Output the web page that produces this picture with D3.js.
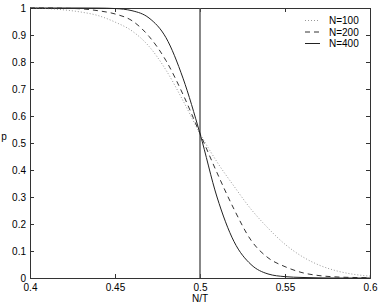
<!DOCTYPE html>
<html>
<head>
<meta charset="utf-8">
<script src="https://cdn.jsdelivr.net/npm/d3@7"></script>
<style>
body { margin: 0; background: #fff; }
text { font-family: "Liberation Sans", Arial, sans-serif; font-size: 10px; fill: #000; }
</style>
</head>
<body>
<script>
// values
var xs = [0.40, 0.41, 0.42, 0.43, 0.44, 0.45, 0.46, 0.47, 0.48, 0.49, 0.50,
          0.51, 0.52, 0.53, 0.54, 0.55, 0.56, 0.57, 0.58, 0.59, 0.60];
var p100 = [1.0, 0.998, 0.993, 0.985, 0.972, 0.948, 0.915, 0.858, 0.77, 0.657, 0.535,
            0.43, 0.34, 0.255, 0.185, 0.125, 0.08, 0.048, 0.027, 0.014, 0.007];
var p200 = [1.0, 1.0, 0.999, 0.997, 0.99, 0.978, 0.953, 0.895, 0.805, 0.68, 0.535,
            0.39, 0.255, 0.14, 0.075, 0.042, 0.02, 0.009, 0.004, 0.002, 0.001];
var p400 = [1.0, 1.0, 1.0, 1.0, 0.9997, 0.998, 0.99, 0.963, 0.89, 0.74, 0.535,
            0.30, 0.135, 0.05, 0.015, 0.005, 0.002, 0.0005, 0, 0, 0];
var seriesNames = ['N=100', 'N=200', 'N=400'];
var xTicks = [0.4, 0.45, 0.5, 0.55, 0.6];
var yTicks = [0, 0.1, 0.2, 0.3, 0.4, 0.5, 0.6, 0.7, 0.8, 0.9, 1];
var xMark = 0.5;

var width = 381, height = 306;
var mLeft = 30, mRight = 370, mTop = 8, mBottom = 278;

var svg = d3.select('body').append('svg')
    .attr('width', width).attr('height', height);

var x = d3.scaleLinear().domain([0.4, 0.6]).range([mLeft, mRight]);
var y = d3.scaleLinear().domain([0, 1]).range([mBottom, mTop]);

var fmt = function(d) { return String(d); };

// axes, MATLAB style: ticks pointing in, on all four sides
svg.append('g').attr('transform', 'translate(0,' + mBottom + ')')
    .call(d3.axisBottom(x).tickValues(xTicks).tickSize(-4).tickPadding(6).tickFormat(fmt));
svg.append('g').attr('transform', 'translate(0,' + mTop + ')')
    .call(d3.axisTop(x).tickValues(xTicks).tickSize(-4).tickFormat(''));
svg.append('g').attr('transform', 'translate(' + mLeft + ',0)')
    .call(d3.axisLeft(y).tickValues(yTicks).tickSize(-4).tickPadding(4).tickFormat(fmt));
svg.append('g').attr('transform', 'translate(' + mRight + ',0)')
    .call(d3.axisRight(y).tickValues(yTicks).tickSize(-4).tickFormat(''));

svg.selectAll('.domain').attr('stroke', '#333');
svg.selectAll('.tick line').attr('stroke', '#333');
svg.selectAll('.tick text').style('font-size', '10px').attr('fill', '#000');

// vertical marker
svg.append('line')
    .attr('x1', x(xMark)).attr('x2', x(xMark))
    .attr('y1', y(0)).attr('y2', y(1))
    .attr('stroke', '#555').attr('stroke-width', 1.4);

var styles = [
    { color: '#999', dash: '1,2', w: 1 },
    { color: '#333', dash: '5,4', w: 1 },
    { color: '#222', dash: null, w: 1 }
];
var data = [p100, p200, p400];

var line = d3.line()
    .x(function(d, i) { return x(xs[i]); })
    .y(function(d) { return y(d); })
    .curve(d3.curveMonotoneX);

data.forEach(function(s, k) {
    svg.append('path')
        .datum(s)
        .attr('d', line)
        .attr('fill', 'none')
        .attr('stroke', styles[k].color)
        .attr('stroke-width', styles[k].w)
        .attr('stroke-dasharray', styles[k].dash);
});

// legend
var lg = svg.append('g');
seriesNames.forEach(function(name, k) {
    var ly = 20.5 + k * 11.5;
    lg.append('line')
        .attr('x1', 305).attr('x2', 320).attr('y1', ly).attr('y2', ly)
        .attr('stroke', styles[k].color)
        .attr('stroke-dasharray', styles[k].dash);
    lg.append('text').attr('x', 329).attr('y', ly + 3.5).text(name);
});

// axis labels
svg.append('text').attr('x', x(0.5)).attr('y', 302)
    .attr('text-anchor', 'middle').text('N/T');
svg.append('text').attr('x', 4).attr('y', 140)
    .attr('text-anchor', 'middle').text('p');
</script>
</body>
</html>
